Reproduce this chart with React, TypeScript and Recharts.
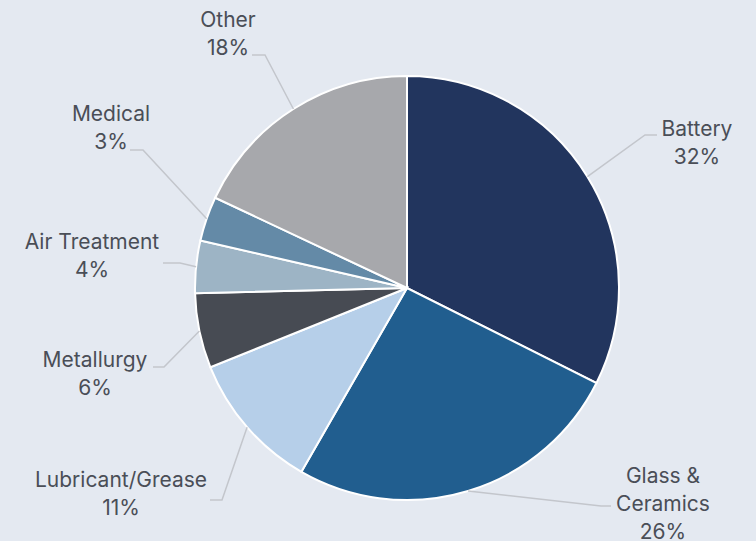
import { Cell, Pie, PieChart } from "recharts";

const segments = ["Battery", "Glass & Ceramics", "Lubricant/Grease", "Metallurgy", "Air Treatment", "Medical", "Other"];
const shares = [32.4, 25.9, 10.6, 5.7, 4.0, 3.4, 18.0];
const labelLines = [["Battery"], ["Glass &", "Ceramics"], ["Lubricant/Grease"], ["Metallurgy"], ["Air Treatment"], ["Medical"], ["Other"]];

const colors = ["#22355e", "#215e8f", "#b6cfe9", "#474b53", "#9db4c5", "#648aa7", "#a7a8ac"];

// leader-line elbow / end and text anchor, relative to pie centre
const labelLayout = [
  { ex: 238, ey: -153, tx: 250, ax: 290, ay: -152 },
  { ex: 194, ey: 218, tx: 204, ax: 256, ay: 195 },
  { ex: -185, ey: 212, tx: -197, ax: -286, ay: 199 },
  { ex: -243, ey: 79, tx: -254, ax: -312, ay: 79 },
  { ex: -227, ey: -25, tx: -244, ax: -315, ay: -39 },
  { ex: -264, ey: -138, tx: -277, ax: -296, ay: -167 },
  { ex: -142, ey: -233, tx: -155, ax: -179, ay: -261 },
];

const data = segments.map((name, i) => ({ name, value: shares[i] }));

const RADIAN = Math.PI / 180;
const LINE_H = 28;

type LabelProps = { cx?: number; cy?: number; midAngle?: number; outerRadius?: number; index?: number };

function SliceLabel({ cx = 0, cy = 0, midAngle = 0, outerRadius = 0, index = 0 }: LabelProps) {
  const l = labelLayout[index];
  const sx = cx + outerRadius * Math.cos(-midAngle * RADIAN);
  const sy = cy + outerRadius * Math.sin(-midAngle * RADIAN);
  const lines = [...labelLines[index], `${Math.round(shares[index])}%`];
  return (
    <g>
      <polyline
        points={`${sx},${sy} ${cx + l.ex},${cy + l.ey} ${cx + l.tx},${cy + l.ey}`}
        fill="none"
        stroke="#c3c6cc"
        strokeWidth={1.5}
      />
      <text x={cx + l.ax} y={cy + l.ay} textAnchor="middle" fill="#4a4e57" fontSize={21} fontFamily="Inter, sans-serif">
        {lines.map((t, i) => (
          <tspan key={i} x={cx + l.ax} dy={i === 0 ? 0 : LINE_H}>
            {t}
          </tspan>
        ))}
      </text>
    </g>
  );
}

export default function App() {
  return (
    <div style={{ position: "fixed", left: 0, top: 0, width: 756, height: 541, background: "#e4e9f1", overflow: "hidden" }}>
      <PieChart width={756} height={541} margin={{ top: 0, right: 0, bottom: 0, left: 0 }}>
        <Pie
          data={data}
          dataKey="value"
          nameKey="name"
          cx={407}
          cy={288}
          outerRadius={212}
          startAngle={90}
          endAngle={-270}
          stroke="#ffffff"
          strokeWidth={2}
          labelLine={false}
          label={(p: LabelProps) => <SliceLabel {...p} />}
          isAnimationActive={false}
        >
          {data.map((_, i) => (
            <Cell key={i} fill={colors[i]} />
          ))}
        </Pie>
      </PieChart>
    </div>
  );
}
